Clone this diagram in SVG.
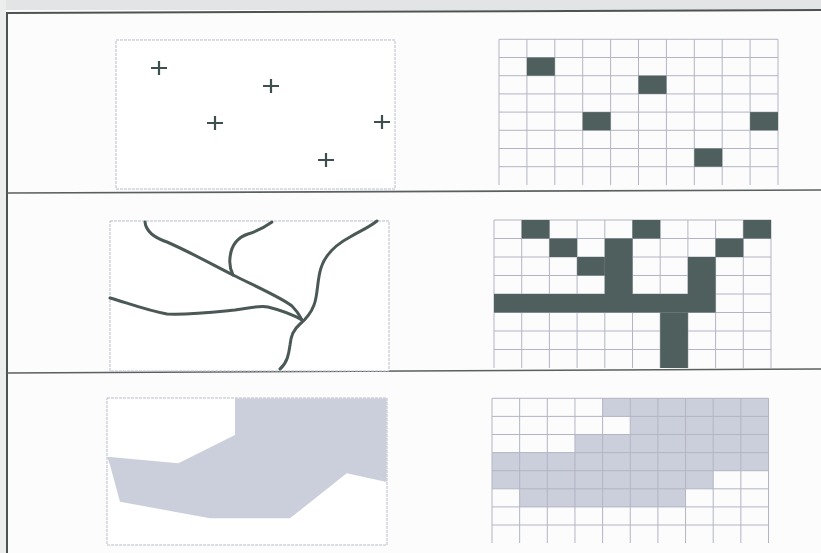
<svg xmlns="http://www.w3.org/2000/svg" width="821" height="553" viewBox="0 0 821 553">
<style>
.frame{stroke:#4d5252;stroke-width:2;fill:none}
.div{stroke:#5a5f60;stroke-width:1.6;fill:none}
.panel{fill:#fff;stroke:#b9bccb;stroke-width:1;stroke-dasharray:3 1}
.grid{stroke:#b3b5c4;stroke-width:1;fill:none}
.dark{fill:#4f5f5d}
.light{fill:#cbcedb}
.river{stroke:#4a5856;stroke-width:3;fill:none;stroke-linecap:round;stroke-linejoin:round}
.cross{stroke:#3e504e;stroke-width:2.2;fill:none}
</style>
<rect x="0" y="0" width="821" height="553" fill="#fcfcfc"/>
<rect x="0" y="0" width="821" height="10" fill="#e3e4e6"/>
<rect x="0" y="0" width="6" height="553" fill="#eceded"/>
<g id="frame">
<path class="frame" d="M7 13 L821 10"/>
<path class="frame" d="M7 12 L7 553"/>
<path class="div" d="M7 193 L821 190"/>
<path class="div" d="M7 373 L821 369"/>
</g>
<g id="points">
<rect class="panel" x="116" y="40" width="279" height="149"/>
<path class="cross" d="M151 68h16M159 61v14M263 86h16M271 79v14M207 123h16M215 116v14M374 122h16M382 115v14M318 160h16M326 153v14"/>
</g>
<g id="point-raster">
<path class="grid" d="M499 39.3V185M526.9 39.3V185M554.8 39.3V185M582.7 39.3V185M610.6 39.3V185M638.5 39.3V185M666.4 39.3V185M694.3 39.3V185M722.2 39.3V185M750.1 39.3V185M778 39.3V185M499 39.3H778M499 57.5H778M499 75.7H778M499 93.9H778M499 112.1H778M499 130.3H778M499 148.5H778M499 166.7H778"/>
<rect x="526.9" y="57.5" width="27.9" height="18.2" class="dark"/>
<rect x="638.5" y="75.7" width="27.9" height="18.2" class="dark"/>
<rect x="582.7" y="112.1" width="27.9" height="18.2" class="dark"/>
<rect x="750.1" y="112.1" width="27.9" height="18.2" class="dark"/>
<rect x="694.3" y="148.5" width="27.9" height="18.2" class="dark"/>
</g>
<g id="lines">
<rect class="panel" x="110" y="221" width="279" height="150"/>
<path class="river" d="M145 222 C146 231 155 238 167 242 C190 252 215 266 233 275 C255 286 282 298 292 306 C297 311 300 316 302 320"/>
<path class="river" d="M272 222 C265 227 258 231 248 234 C236 238 231 246 230 258 C229 266 231 271 233 275"/>
<path class="river" d="M110 298 C125 302 145 310 167 314 C190 315 215 312 235 310 C250 308 260 305 268 307 C280 310 292 314 302 320"/>
<path class="river" d="M377 221 C368 228 360 231 350 237 C335 245 325 255 321 268 C317 280 318 295 314 305 C311 313 306 319 300 324 C293 330 291 336 290 345 C289 352 288 362 280 369"/>
</g>
<g id="line-raster">
<path class="grid" d="M494 220V368M521.7 220V368M549.4 220V368M577.1 220V368M604.8 220V368M632.5 220V368M660.2 220V368M687.9 220V368M715.6 220V368M743.3 220V368M771 220V368M494 220H771M494 238.5H771M494 257H771M494 275.5H771M494 294H771M494 312.5H771M494 331H771M494 349.5H771"/>
<rect x="521.7" y="220" width="27.7" height="18.5" class="dark"/>
<rect x="632.5" y="220" width="27.7" height="18.5" class="dark"/>
<rect x="743.3" y="220" width="27.7" height="18.5" class="dark"/>
<rect x="549.4" y="238.5" width="27.7" height="18.5" class="dark"/>
<rect x="715.6" y="238.5" width="27.7" height="18.5" class="dark"/>
<rect x="577.1" y="257" width="27.7" height="18.5" class="dark"/>
<rect x="604.8" y="238.5" width="27.7" height="55.5" class="dark"/>
<rect x="687.9" y="257" width="27.7" height="37" class="dark"/>
<rect x="494" y="294" width="221.6" height="18.5" class="dark"/>
<rect x="660.2" y="312.5" width="27.7" height="55.5" class="dark"/>
</g>
<g id="polygons">
<rect class="panel" x="107" y="398" width="280" height="147"/>
<polygon class="light" points="235,398.3 386.7,398.3 386.7,482 346.7,473.3 290,518.3 210,518.3 120,501.7 110,465 107,456.7 178.3,463.3 235,435"/>
</g>
<g id="polygon-raster">
<polygon class="light" points="602.6,398.3 768.5,398.3 768.5,470.7 713.2,470.7 713.2,488.8 685.55,488.8 685.55,506.9 519.65,506.9 519.65,488.8 492,488.8 492,452.6 574.95,452.6 574.95,434.5 630.25,434.5 630.25,416.4 602.6,416.4"/>
<path class="grid" d="M492 398.3V543M519.65 398.3V543M547.3 398.3V543M574.95 398.3V543M602.6 398.3V543M630.25 398.3V543M657.9 398.3V543M685.55 398.3V543M713.2 398.3V543M740.85 398.3V543M768.5 398.3V543M492 398.3H768.5M492 416.4H768.5M492 434.5H768.5M492 452.6H768.5M492 470.7H768.5M492 488.8H768.5M492 506.9H768.5M492 525H768.5"/>
</g>
</svg>
